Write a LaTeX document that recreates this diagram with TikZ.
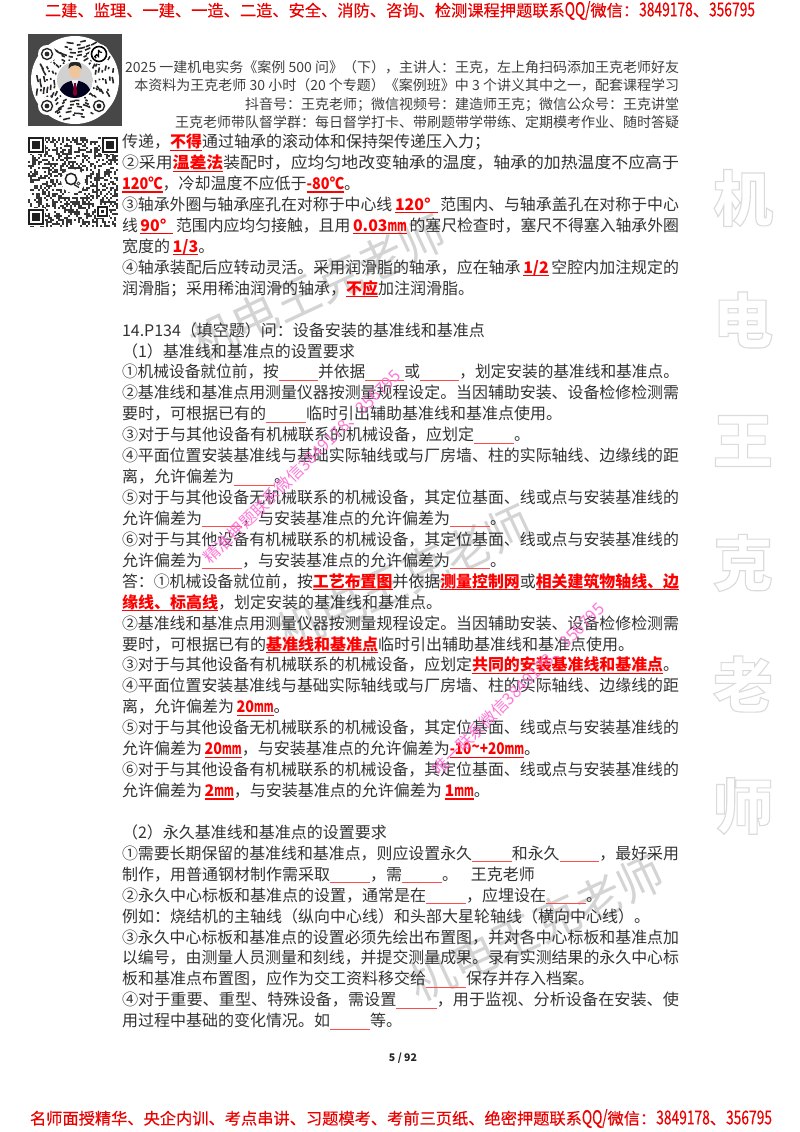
\documentclass[tikz,border=0pt]{standalone}
\usepackage{fontspec}
\usepackage{graphicx}
\setmainfont{Noto Sans CJK SC}
\newfontfamily\bnfont[FakeBold=0.35]{Noto Sans CJK SC}
\definecolor{wpink}{RGB}{255,105,212}
\newsavebox\rbbox
\newcommand\rb[1]{\begingroup\color{red}\bfseries\sbox\rbbox{#1}\rlap{\rule[-3pt]{\wd\rbbox}{1.1pt}}\usebox\rbbox\endgroup}
\newcommand\bk{{\color{red!70}\rule[-3pt]{40pt}{1pt}}}
\newcommand\mmu{\scalebox{.62}[1]{mm}}
\newcommand\nar[1]{\scalebox{.85}[1.2]{#1}}
\newcommand\outl[1]{\special{pdf:code 1 Tr 0.86 G 1.1 w}#1\special{pdf:code 0 Tr}}
\newcommand\bodyfnt{\fontsize{16}{20}\selectfont}
\newcommand\jl[2]{\node[txt,anchor=base west] (L#1) at (122,{147.7+20.93*#1}) {\resizebox{557pt}{\height}{#2}};}
\newcommand\nl[2]{\node[txt,anchor=base west] (L#1) at (122,{147.7+20.93*#1}) {#2};}
\newcommand\hl[3]{\node[hd,anchor=base east] (H#1) at (679,#2) {#3};}
\tikzset{
 txt/.style={inner sep=0pt,outer sep=0pt,text=black!80,font=\bodyfnt},
 hd/.style={inner sep=0pt,outer sep=0pt,text=black!75,font=\fontsize{14}{18}\selectfont},
 banner/.style={inner sep=0pt,outer sep=0pt,text=red!92!black,font=\fontsize{16}{20}\selectfont\bnfont},
 wm/.style={inner sep=0pt,outer sep=0pt,text=black!17,font=\fontsize{46}{50}\selectfont},
 pk/.style={inner sep=0pt,outer sep=0pt,text=wpink,font=\fontsize{16.5}{20}\selectfont},
 big/.style={inner sep=0pt,outer sep=0pt,font=\fontsize{60}{64}\selectfont\bfseries},
 mod/.style={fill=black!78}
}
\begin{document}
\begin{tikzpicture}[x=1pt,y=-1pt]
\useasboundingbox (0,0) rectangle (800,1132);
\fill[white] (0,0) rectangle (800,1132);
% right-hand outlined watermark
\foreach \ch/\yy in {机/198,电/320,王/441,克/563,老/684,师/806}{
  \node[big] (R\yy) at (743,\yy) {\outl{\ch}};
}
% diagonal grey watermarks
\node[wm,rotate=25] (W1) at (318,288) {机电王克老师};
\node[wm,rotate=25] (W2) at (404,578) {机电王克老师};
\node[wm,rotate=25] (W3) at (536,928) {机电王克老师};
% banners
\node[banner] (TOP) at (400,10.5) {\resizebox{710pt}{\height}{二建、监理、一建、一造、二造、安全、消防、咨询、检测课程押题联系\nar{QQ/}微信：\nar{3849178}、\nar{356795}}};
\node[banner] (BOT) at (401,1118.5) {\resizebox{742pt}{\height}{名师面授精华、央企内训、考点串讲、习题模考、考前三页纸、绝密押题联系\nar{QQ/}微信：\nar{3849178}、\nar{356795}}};
% round code
\fill[black!72] (28,34) rectangle (122,126);
\fill[white] (75,80) circle (44);
\pgfmathsetseed{4711}
\foreach \r in {21,24.5,28,31.5,35,38.5}{
  \foreach \k in {1,...,20}{
    \pgfmathsetmacro\sa{\k*18+rnd*8}
    \pgfmathsetmacro\ea{\sa+3+rnd*12}
    \draw[black!85,line width=1.6pt] ({75+\r*cos(\sa)},{80+\r*sin(\sa)}) arc[start angle=\sa,end angle=\ea,radius=\r,y radius=-\r];
  }
}
\foreach \ex/\ey in {47/54,47/106,99/106}{
  \fill[white] (\ex,\ey) circle (9);
  \draw[black!85,line width=1.4pt] (\ex,\ey) circle (5.5);
  \fill[black!85] (\ex,\ey) circle (2.4);
}
\fill[white] (99,54) circle (10);
\draw[black,line width=1.6pt] (99,54) circle (7.5);
\draw[black,line width=1.4pt] (98.5,50) -- (98.5,56.5) arc[start angle=0,end angle=-250,radius=1.8] ;
\draw[black,line width=1.2pt] (98.5,50) .. controls (99,52) and (100.5,52.5) .. (102,52.5);
\fill[white] (75,80) circle (19.5);
\begin{scope}
\clip (75,80) circle (18);
\fill[black!18] (57,62) rectangle (93,98);
\fill[black!88!blue] (58,99) .. controls (59,84) and (66,82) .. (75,80) .. controls (84,82) and (91,84) .. (92,99) -- cycle;
\fill[white!88!gray] (71.5,80) -- (78.5,80) -- (75,91) -- cycle;
\fill[purple!70!black] (74,83) -- (76,83) -- (77,94) -- (75,96) -- (73,94) -- cycle;
\fill[brown!55!orange!45!white] (75,70) ellipse (6 and 8.5);
\fill[black!85] (68.5,69) .. controls (67.5,58) and (82.5,58) .. (81.5,69) .. controls (79.5,64) and (70.5,64) .. (68.5,69) -- cycle;
\end{scope}
% square code
\pgfmathsetseed{2025}
\foreach \i in {0,...,44}{
  \foreach \j in {0,...,44}{
    \pgfmathparse{rnd<0.45?1:0}
    \ifnum\pgfmathresult=1
      \fill[mod] ({28+2*\i},{137+2*\j}) rectangle ++(2,2);
    \fi
  }
}
\foreach \fx/\fy in {28/137,102/137,28/209}{
  \fill[white] (\fx-1,\fy-1) rectangle ++(18,18);
  \fill[black!88] (\fx,\fy) rectangle ++(16,16);
  \fill[white] (\fx+2.2,\fy+2.2) rectangle ++(11.6,11.6);
  \fill[black!88] (\fx+4.4,\fy+4.4) rectangle ++(7.2,7.2);
}
\fill[white] (96,205) rectangle ++(13,13);
\fill[black!88] (97,206) rectangle ++(11,11);
\fill[white] (99,208) rectangle ++(7,7);
\fill[black!88] (101,210) rectangle ++(3,3);
\fill[white] (73,181) circle (12);
\draw[black!88,line width=1.5pt] (71,179) circle (5.6);
\draw[black!88,line width=1.2pt] (74,184.5) -- (79,187.5);
\draw[black!70,line width=.9pt] (78.5,183.5) circle (1.6);
% header lines
\hl{a}{72.2}{2025 一建机电实务《案例 500 问》（下），主讲人：王克，左上角扫码添加王克老师好友}
\hl{b}{90.6}{本资料为王克老师 30 小时（20 个专题）《案例班》中 3 个讲义其中之一，配套课程学习}
\hl{c}{109}{抖音号：王克老师；微信视频号：建造师王克；微信公众号：王克讲堂}
\hl{d}{127.4}{王克老师带队督学群：每日督学打卡、带刷题带学带练、定期模考作业、随时答疑}
% body
\nl{0}{传递，\rb{不得}通过轴承的滚动体和保持架传递压入力；}
\jl{1}{②采用\rb{温差法}装配时，应均匀地改变轴承的温度，轴承的加热温度不应高于}
\nl{2}{\rb{\scalebox{.9}[1]{120℃}}，冷却温度不应低于\rb{\scalebox{.9}[1]{-80℃}}。}
\jl{3}{③轴承外圈与轴承座孔在对称于中心线\,\rb{120°\hspace{7pt}}\,范围内、与轴承盖孔在对称于中心}
\jl{4}{线\,\rb{90°\hspace{7pt}}\,范围内应均匀接触，且用\,\rb{0.03\mmu}\,的塞尺检查时，塞尺不得塞入轴承外圈}
\nl{5}{宽度的\,\rb{1/3}。}
\jl{6}{④轴承装配后应转动灵活。采用润滑脂的轴承，应在轴承\,\rb{1/2}\,空腔内加注规定的}
\nl{7}{润滑脂；采用稀油润滑的轴承，\rb{不应}加注润滑脂。}
\nl{9}{14.P134（填空题）问：设备安装的基准线和基准点}
\nl{10}{（1）基准线和基准点的设置要求}
\jl{11}{①机械设备就位前，按\bk 并依据\bk 或\bk ，划定安装的基准线和基准点。}
\jl{12}{②基准线和基准点用测量仪器按测量规程设定。当因辅助安装、设备检修检测需}
\nl{13}{要时，可根据已有的\bk 临时引出辅助基准线和基准点使用。}
\nl{14}{③对于与其他设备有机械联系的机械设备，应划定\bk 。}
\jl{15}{④平面位置安装基准线与基础实际轴线或与厂房墙、柱的实际轴线、边缘线的距}
\nl{16}{离，允许偏差为\bk 。}
\jl{17}{⑤对于与其他设备无机械联系的机械设备，其定位基面、线或点与安装基准线的}
\nl{18}{允许偏差为\bk ，与安装基准点的允许偏差为\bk 。}
\jl{19}{⑥对于与其他设备有机械联系的机械设备，其定位基面、线或点与安装基准线的}
\nl{20}{允许偏差为\bk ，与安装基准点的允许偏差为\bk 。}
\jl{21}{答：①机械设备就位前，按\rb{工艺布置图}并依据\rb{测量控制网}或\rb{相关建筑物轴线、边}}
\nl{22}{\rb{缘线、标高线}，划定安装的基准线和基准点。}
\jl{23}{②基准线和基准点用测量仪器按测量规程设定。当因辅助安装、设备检修检测需}
\nl{24}{要时，可根据已有的\rb{基准线和基准点}临时引出辅助基准线和基准点使用。}
\jl{25}{③对于与其他设备有机械联系的机械设备，应划定\rb{共同的安装基准线和基准点}。}
\jl{26}{④平面位置安装基准线与基础实际轴线或与厂房墙、柱的实际轴线、边缘线的距}
\nl{27}{离，允许偏差为\,\rb{\scalebox{.9}[1]{20}\mmu}。}
\jl{28}{⑤对于与其他设备无机械联系的机械设备，其定位基面、线或点与安装基准线的}
\nl{29}{允许偏差为\,\rb{\scalebox{.9}[1]{20}\mmu}，与安装基准点的允许偏差为\rb{\scalebox{.85}[1]{-10\raisebox{2.5pt}{\textasciitilde}+20}\mmu}。}
\jl{30}{⑥对于与其他设备有机械联系的机械设备，其定位基面、线或点与安装基准线的}
\nl{31}{允许偏差为\,\rb{2\mmu}，与安装基准点的允许偏差为\,\rb{1\mmu}。}
\nl{33}{（2）永久基准线和基准点的设置要求}
\jl{34}{①需要长期保留的基准线和基准点，则应设置永久\bk 和永久\bk ，最好采用}
\nl{35}{制作，用普通钢材制作需采取\bk ，需\bk 。\hspace{13pt}王克老师}
\nl{36}{②永久中心标板和基准点的设置，通常是在\bk ，应埋设在\bk 。}
\nl{37}{例如：烧结机的主轴线（纵向中心线）和头部大星轮轴线（横向中心线）。}
\jl{38}{③永久中心标板和基准点的设置必须先绘出布置图，并对各中心标板和基准点加}
\jl{39}{以编号，由测量人员测量和刻线，并提交测量成果。录有实测结果的永久中心标}
\nl{40}{板和基准点布置图，应作为交工资料移交给\bk 保存并存入档案。}
\jl{41}{④对于重要、重型、特殊设备，需设置\bk ，用于监视、分析设备在安装、使}
\nl{42}{用过程中基础的变化情况。如\bk 等。}
\node[inner sep=0pt,font=\fontsize{10.5}{12}\selectfont\bfseries,text=black!85] (PG) at (403,1058) {5 / 92};
% pink diagonal watermarks
\node[pk,rotate=44.5,opacity=.9] (P1) at (302,466.5) {精准押题联系微信3849178、356795};
\node[pk,rotate=45,opacity=.9] (P2) at (518.5,689) {唯一联系微信3849178、356795};
\end{tikzpicture}
\end{document}
